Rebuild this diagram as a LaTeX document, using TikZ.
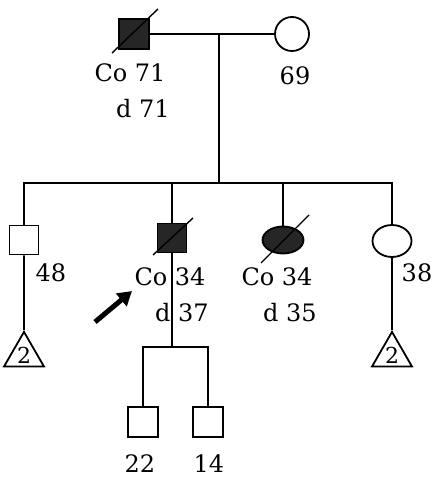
\documentclass[tikz,border=0pt]{standalone}
\usepackage{fontspec}
\setmainfont{DejaVu Serif}
\usetikzlibrary{arrows.meta,shapes.geometric}

\begin{document}
\begin{tikzpicture}[
    x=1pt, y=-1pt,
    line width=1.8pt,
    male/.style={draw, rectangle, minimum size=29pt, inner sep=0pt},
    female/.style={draw, ellipse, minimum width=39pt, minimum height=32pt, inner sep=0pt},
    affected/.style={fill=black!85},
    sibs/.style={draw, regular polygon, regular polygon sides=3, minimum size=45pt,
        inner sep=0pt, font=\fontsize{22}{24}\selectfont},
    age/.style={inner sep=0pt, font=\fontsize{24}{28}\selectfont},
    dead/.style={line width=1.4pt},
    pointer/.style={-{Triangle[length=14pt,width=16pt]}, line width=5pt}
]
\useasboundingbox (0,0) rectangle (433,478);

% first generation
\node[male,affected,minimum size=30pt] (father) at (134,34) {};
\node[female,minimum width=34pt,minimum height=34pt] (mother) at (292,34) {};
\node[age] (fatherCo) at (130,73) {Co 71};
\node[age] (fatherD) at (143,109) {d 71};
\node[age] (motherAge) at (295,76) {69};

\draw (father) -- (mother);
\draw[dead] (father.center) +(-22,19) -- +(24,-25);
\coordinate (couple) at (219,34);
\coordinate (sibtop) at (219,183);
\draw (couple) -- (sibtop);

% second generation
\node[male] (son) at (24,240) {};
\node[male,affected] (proband) at (172,238) {};
\node[female,affected,minimum width=41pt,minimum height=27pt] (daughter) at (283,240) {};
\node[female] (daughterB) at (392,241) {};

\draw (son.north) |- (sibtop) -| (daughterB.north);
\draw (proband.north) -- (proband.north |- sibtop);
\draw (daughter.north) -- (daughter.north |- sibtop);
\draw[dead] (proband.center) +(-19,17) -- +(21,-20);
\draw[dead] (daughter.center) +(-22,23) -- +(26,-25);

\node[age] (sonAge) at (51,273) {48};
\node[age] (probandCo) at (170,277) {Co 34};
\node[age] (probandD) at (182,313) {d 37};
\node[age] (daughterCo) at (277,277) {Co 34};
\node[age] (daughterD) at (290,313) {d 35};
\node[age] (daughterBAge) at (417,273) {38};

\coordinate (ptail) at (95,322);
\coordinate (ptip) at (132,291);
\draw[pointer] (ptail) -- (ptip);

\node[sibs] (sibsL) at (24,355) {2};
\node[sibs] (sibsR) at (392,355) {2};
\draw (son.south) -- (sibsL.north);
\draw (daughterB.south) -- (sibsR.north);

% third generation
\coordinate (kids) at (172,347);
\node[male,minimum size=30pt] (grandA) at (143,422) {};
\node[male,minimum size=30pt] (grandB) at (208,422) {};
\draw (proband.south) -- (kids);
\draw (grandA.north) |- (kids) -| (grandB.north);

\node[age] (grandAAge) at (140,464) {22};
\node[age] (grandBAge) at (209,464) {14};
\end{tikzpicture}
\end{document}
